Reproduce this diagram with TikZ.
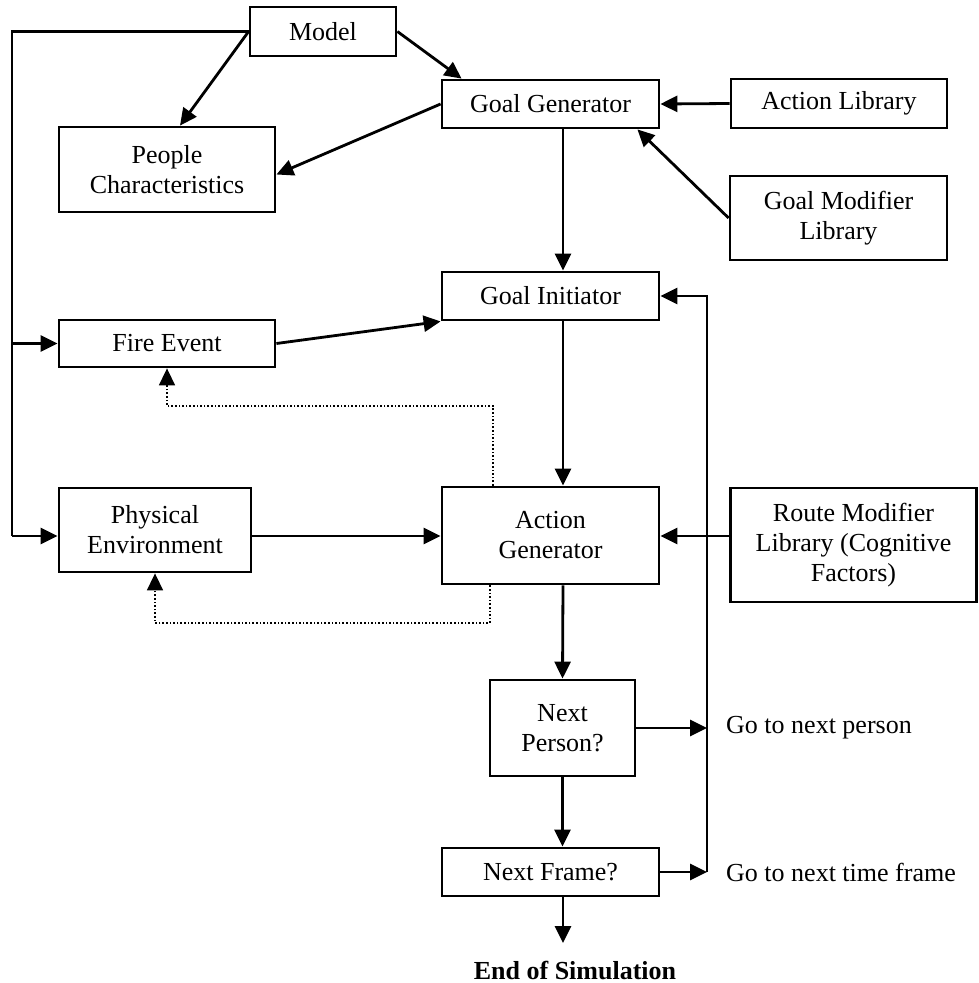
\documentclass[tikz,border=0pt]{standalone}
\usepackage{fontspec}
\setmainfont{Liberation Serif}
\usetikzlibrary{arrows.meta,calc}
\begin{document}
\begin{tikzpicture}[x=1pt,y=-1pt,
  box/.style={draw,line width=2.8pt,inner sep=0pt,align=center,font=\fontsize{26}{30}\selectfont},
  lbl/.style={inner sep=0pt,font=\fontsize{26}{30}\selectfont},
  ln/.style={line width=2.8pt},
  arr/.style={line width=2.8pt,-{Triangle[length=17pt,width=16pt]}},
  dot/.style={line width=1.6pt,dotted,-{Triangle[length=17pt,width=16pt]}}]
\useasboundingbox (0,0) rectangle (978,983);
% nodes
\node[box,minimum width=146pt,minimum height=49pt] (model) at (323,31.5) {Model};
\node[box,minimum width=217pt,minimum height=48pt] (gg) at (550.5,104) {Goal Generator};
\node[box,minimum width=216pt,minimum height=49pt] (al) at (839,103.5) {Action Library};
\node[box,minimum width=217pt,minimum height=84pt] (gml) at (838.5,218) {Goal Modifier\\Library};
\node[box,minimum width=216pt,minimum height=85pt] (people) at (167,169.5) {People\\Characteristics};
\node[box,minimum width=217pt,minimum height=48pt] (gi) at (550.5,296) {Goal Initiator};
\node[box,minimum width=216pt,minimum height=47pt] (fire) at (167,343.5) {Fire Event};
\node[box,minimum width=192pt,minimum height=84pt] (pe) at (155,530) {Physical\\Environment};
\node[box,minimum width=217pt,minimum height=97pt] (ag) at (550.5,535.5) {Action\\Generator};
\node[box,minimum width=246pt,minimum height=114pt] (rm) at (853.5,545) {Route Modifier\\Library (Cognitive\\Factors)};
\node[box,minimum width=145pt,minimum height=96pt] (np) at (562.5,728) {Next\\Person?};
\node[box,minimum width=217pt,minimum height=48pt] (nf) at (550.5,872) {Next Frame?};
\node[lbl,font=\fontsize{26}{30}\selectfont\bfseries] (end) at (575,970) {End of Simulation};
\node[lbl,anchor=west] (gnp) at (726,728) {Go to next person};
\node[lbl,anchor=west] (gnf) at (726,872) {Go to next time frame};
% coordinates
\coordinate (lt) at (12,31.5);
\coordinate (lf) at (12,343.5);
\coordinate (lp) at (12,536);
\coordinate (lpA) at (707,728);
\coordinate (lpB) at (707,872);
\coordinate (lpT) at (707,296);
\coordinate (endtip) at (563,943);
\coordinate (d1a) at (493,406);
\coordinate (d1b) at (167,406);
\coordinate (d2a) at (490,623);
\coordinate (d2b) at (155,623);
% connectors
\draw[ln] (model.west) -- (lt) -- (lp);
\draw[arr] (lf) -- (fire.west);
\draw[arr] (lp) -- (lp -| pe.west);
\draw[arr] (model.west) -- ([xshift=13pt]people.north);
\draw[arr] (model.east) -- ([xshift=21pt]gg.north west);
\draw[arr] (gg.west) -- ([yshift=-5pt]people.east);
\draw[arr] (al.west) -- (gg.east);
\draw[arr] (gml.west) -- ([xshift=-23pt]gg.south east);
\draw[arr] ([xshift=12.5pt]gg.south) -- ([xshift=12.5pt]gi.north);
\draw[arr] (fire.east) -- (gi.south west);
\draw[arr] ([xshift=12.5pt]gi.south) -- ([xshift=12.5pt]ag.north);
\draw[arr] (lp -| pe.east) -- (lp -| ag.west);
\draw[arr] (lp -| rm.west) -- (lp -| ag.east);
\draw[arr] ([xshift=12.5pt]ag.south) -- (np.north);
\draw[arr] (np.east) -- (lpA);
\draw[arr] (np.south) -- (nf.north -| np.south);
\draw[arr] (nf.east) -- (lpB);
\draw[arr] (lpB) -- (lpT) -- (gi.east);
\draw[arr] (nf.south -| endtip) -- (endtip);
\draw[dot] (d1a |- ag.north) -- (d1a) -- (d1b) -- (fire.south);
\draw[dot] (d2a |- ag.south) -- (d2a) -- (d2b) -- (pe.south);
\end{tikzpicture}
\end{document}
